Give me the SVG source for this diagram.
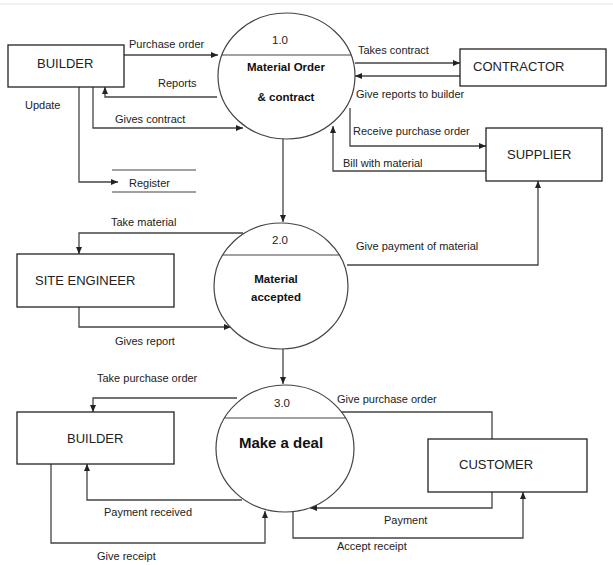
<svg xmlns="http://www.w3.org/2000/svg" width="613" height="565" viewBox="0 0 613 565">
<style>
.box{fill:#fff;stroke:#222;stroke-width:1.3}
.proc{fill:#fff;stroke:#444;stroke-width:1.2}
.div{stroke:#444;stroke-width:1.2}
.ln{fill:none;stroke:#444;stroke-width:1.3}
.lab{font-family:"Liberation Sans",Arial,sans-serif;font-size:11px;fill:#222}
.nt{font-family:"Liberation Sans",Arial,sans-serif;font-size:13px;fill:#222}
.pt{font-family:"Liberation Sans",Arial,sans-serif;font-size:11.5px;font-weight:bold;fill:#111;text-anchor:middle}
.num{font-family:"Liberation Sans",Arial,sans-serif;font-size:11.5px;fill:#222;text-anchor:middle}
</style>
<defs>
<marker id="ar" markerWidth="8" markerHeight="7" refX="7" refY="3" orient="auto" markerUnits="userSpaceOnUse">
<path d="M0,0 L7,3 L0,6 z" fill="#222"/>
</marker>
</defs>
<rect width="613" height="565" fill="#fff"/>
<line x1="0" y1="4" x2="613" y2="4" stroke="#e6e6e6" stroke-width="1"/>

<g id="connectors">
<path class="ln" d="M124,55 H218" marker-end="url(#ar)"/>
<path class="ln" d="M217,97 H105 V87" marker-end="url(#ar)"/>
<path class="ln" d="M93,87 V128 H243" marker-end="url(#ar)"/>
<path class="ln" d="M79,87 V182 H118" marker-end="url(#ar)"/>
<path class="ln" d="M355,63 H460" marker-end="url(#ar)"/>
<path class="ln" d="M460,76 H355" marker-end="url(#ar)"/>
<path class="ln" d="M350,108 V146 H486" marker-end="url(#ar)"/>
<path class="ln" d="M486,171 H333 V126" marker-end="url(#ar)"/>
<path class="ln" d="M283,139 V222" marker-end="url(#ar)"/>
<path class="ln" d="M243,233 H79 V254" marker-end="url(#ar)"/>
<path class="ln" d="M79,307 V327 H231" marker-end="url(#ar)"/>
<path class="ln" d="M347,265 H538 V181" marker-end="url(#ar)"/>
<path class="ln" d="M283,349 V384" marker-end="url(#ar)"/>
<path class="ln" d="M237,398 H93 V412" marker-end="url(#ar)"/>
<path class="ln" d="M242,500 H87 V464" marker-end="url(#ar)"/>
<path class="ln" d="M51,464 V543 H265 V511" marker-end="url(#ar)"/>
<path class="ln" d="M340,412 H492 V439"/>
<path class="ln" d="M492,492 V508 H310" marker-end="url(#ar)"/>
<path class="ln" d="M293,511 V538 H523 V492" marker-end="url(#ar)"/>
</g>

<g id="labels">
<text class="lab" x="129" y="48">Purchase order</text>
<text class="lab" x="158" y="87">Reports</text>
<text class="lab" x="25" y="109">Update</text>
<text class="lab" x="115" y="123">Gives contract</text>
<text class="lab" x="358" y="54">Takes contract</text>
<text class="lab" x="356" y="98">Give reports to builder</text>
<text class="lab" x="353" y="135">Receive purchase order</text>
<text class="lab" x="343" y="167">Bill with material</text>
<text class="lab" x="111" y="226">Take material</text>
<text class="lab" x="115" y="345">Gives report</text>
<text class="lab" x="356" y="250">Give payment of material</text>
<text class="lab" x="97" y="382">Take purchase order</text>
<text class="lab" x="104" y="516">Payment received</text>
<text class="lab" x="97" y="560">Give receipt</text>
<text class="lab" x="337" y="403">Give purchase order</text>
<text class="lab" x="384" y="524">Payment</text>
<text class="lab" x="337" y="550">Accept receipt</text>
</g>

<g id="store-register">
<line class="div" x1="112" y1="170" x2="196" y2="170"/>
<line class="div" x1="112" y1="192" x2="196" y2="192"/>
<text class="lab" x="129" y="187">Register</text>
</g>

<g id="builder-top">
<rect class="box" x="8" y="45" width="116" height="42"/>
<text class="nt" x="37" y="68">BUILDER</text>
</g>
<g id="contractor">
<rect class="box" x="460" y="49" width="146" height="37"/>
<text class="nt" x="473" y="71">CONTRACTOR</text>
</g>
<g id="supplier">
<rect class="box" x="486" y="128" width="116" height="53"/>
<text class="nt" x="507" y="159">SUPPLIER</text>
</g>
<g id="site-engineer">
<rect class="box" x="17" y="254" width="157" height="53"/>
<text class="nt" x="35" y="285">SITE ENGINEER</text>
</g>
<g id="builder-bottom">
<rect class="box" x="17" y="412" width="157" height="52"/>
<text class="nt" x="67" y="443">BUILDER</text>
</g>
<g id="customer">
<rect class="box" x="428" y="439" width="159" height="53"/>
<text class="nt" x="459" y="469">CUSTOMER</text>
</g>

<g id="process-1">
<ellipse class="proc" cx="286.5" cy="76" rx="68.5" ry="63"/>
<line class="div" x1="222" y1="55" x2="351" y2="55"/>
<text class="num" x="280" y="44">1.0</text>
<text class="pt" x="286" y="71">Material Order</text>
<text class="pt" x="286" y="101">&amp; contract</text>
</g>
<g id="process-2">
<ellipse class="proc" cx="281" cy="286" rx="67" ry="63"/>
<line class="div" x1="223" y1="255" x2="340" y2="255"/>
<text class="num" x="280" y="244">2.0</text>
<text class="pt" x="276" y="283">Material</text>
<text class="pt" x="276" y="301">accepted</text>
</g>
<g id="process-3">
<ellipse class="proc" cx="285" cy="448.5" rx="69" ry="63.5"/>
<line class="div" x1="224" y1="418" x2="346" y2="418"/>
<text class="num" x="282" y="407">3.0</text>
<text class="pt" x="281" y="448" style="font-size:15px">Make a deal</text>
</g>
</svg>
